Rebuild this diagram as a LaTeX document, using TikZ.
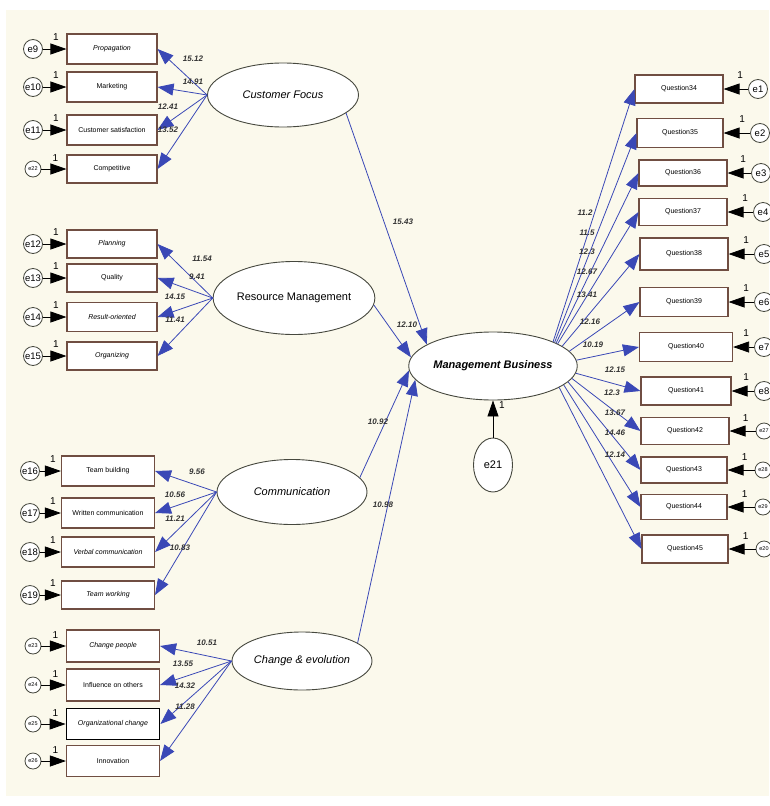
\documentclass[tikz,border=0pt]{standalone}
\usepackage{fontspec}
\setmainfont{Liberation Sans}
\usetikzlibrary{shapes.geometric,arrows.meta,positioning}

\definecolor{paper}{RGB}{251,249,236}
\definecolor{boxline}{RGB}{112,78,66}
\definecolor{pathblue}{RGB}{58,72,182}
\definecolor{ellline}{RGB}{70,72,62}

\begin{document}
\begin{tikzpicture}[x=1pt,y=-1pt,
    ind/.style={draw=boxline, line width=1.1pt, fill=white, rectangle, minimum width=90pt, minimum height=30pt, inner sep=1pt, font=\fontsize{7}{8}\selectfont},
    lat/.style={draw=ellline, line width=0.9pt, fill=white, ellipse, inner sep=0pt, font=\fontsize{11}{12}\selectfont\itshape},
    err/.style={draw=ellline, line width=0.8pt, fill=white, circle, inner sep=0pt, minimum size=19pt, font=\fontsize{9.5}{10}\selectfont},
    errsm/.style={err, minimum size=16pt, font=\fontsize{5.5}{6}\selectfont},
    one/.style={font=\fontsize{10}{10}\selectfont, inner sep=0pt},
    num/.style={font=\fontsize{8}{9}\selectfont\bfseries\itshape, text=black!80, inner sep=0pt},
    load/.style={draw=pathblue, line width=0.8pt, -{Triangle[length=16pt,width=12pt]}},
    fix/.style={draw=black, line width=0.8pt, -{Triangle[length=16pt,width=11pt]}}]

        % Frame
        \useasboundingbox (0,0) rectangle (769,806);
        \fill[white] (0,0) rectangle (769,806);
        \fill[paper] (6,10) rectangle (769,796);

        % Nodes: Customer Focus
        \node (CF) [lat, minimum width=151pt, minimum height=64pt] at (283,95) {Customer Focus};
        \node (Prop) [ind, font=\fontsize{7}{8}\selectfont\itshape] at (112,49) {Propagation};
        \node (Mark) [ind] at (112,87) {Marketing};
        \node (CSat) [ind] at (112,130) {Customer satisfaction};
        \node (Comp) [ind, minimum height=28pt] at (112,169) {Competitive};
        \node (e9) [err, left of=Prop, node distance=79pt] {e9};
        \node (e10) [err, left of=Mark, node distance=79pt] {e10};
        \node (e11) [err, left of=CSat, node distance=79pt] {e11};
        \node (e22) [errsm, left of=Comp, node distance=79pt] {e22};

        % Nodes: Resource Management
        \node (RM) [lat, minimum width=152pt, minimum height=73pt, font=\fontsize{11}{12}\selectfont] at (294,298) {Resource Management};
        \node (Plan) [ind, minimum height=28pt, font=\fontsize{7}{8}\selectfont\itshape] at (112,244) {Planning};
        \node (Qual) [ind, minimum height=28pt] at (112,278) {Quality};
        \node (Res) [ind, minimum height=29pt, font=\fontsize{7}{8}\selectfont\itshape] at (112,317) {Result-oriented};
        \node (Org) [ind, minimum height=28pt, font=\fontsize{7}{8}\selectfont\itshape] at (112,356) {Organizing};
        \node (e12) [err, left of=Plan, node distance=79pt] {e12};
        \node (e13) [err, left of=Qual, node distance=79pt] {e13};
        \node (e14) [err, left of=Res, node distance=79pt] {e14};
        \node (e15) [err, left of=Org, node distance=79pt] {e15};

        % Nodes: Communication
        \node (COM) [lat, minimum width=150pt, minimum height=65pt] at (292,492) {Communication};
        \node (TB) [ind, minimum width=93pt] at (108,471) {Team building};
        \node (WC) [ind, minimum width=93pt] at (108,513) {Written communication};
        \node (VC) [ind, minimum width=93pt, font=\fontsize{7}{8}\selectfont\itshape] at (108,552) {Verbal communication};
        \node (TW) [ind, minimum width=93pt, minimum height=28pt, font=\fontsize{7}{8}\selectfont\itshape] at (108,595) {Team working};
        \node (e16) [err, left of=TB, node distance=78pt] {e16};
        \node (e17) [err, left of=WC, node distance=78pt] {e17};
        \node (e18) [err, left of=VC, node distance=78pt] {e18};
        \node (e19) [err, left of=TW, node distance=78pt] {e19};

        % Nodes: Change & evolution
        \node (CE) [lat, minimum width=140pt, minimum height=58pt] at (302,661) {Change \& evolution};
        \node (CP) [ind, minimum width=93pt, minimum height=32pt, font=\fontsize{7}{8}\selectfont\itshape] at (113,646) {Change people};
        \node (IO) [ind, minimum width=93pt, minimum height=32pt] at (113,685) {Influence on others};
        \node (OC) [ind, minimum width=93pt, minimum height=31pt, draw=black, line width=1.8pt, font=\fontsize{7}{8}\selectfont\itshape] at (113,724) {Organizational change};
        \node (Inn) [ind, minimum width=93pt, minimum height=31pt] at (113,761) {Innovation};
        \node (e23) [errsm, left of=CP, node distance=80pt] {e23};
        \node (e24) [errsm, left of=IO, node distance=80pt] {e24};
        \node (e25) [errsm, left of=OC, node distance=80pt] {e25};
        \node (e26) [errsm, left of=Inn, node distance=80pt] {e26};

        % Nodes: Management Business
        \node (MB) [lat, minimum width=150pt, minimum height=68pt, font=\fontsize{11}{12}\selectfont\bfseries\itshape] at (493,366) {Management Business};
        \node (e21) [lat, minimum width=39pt, minimum height=54pt, font=\fontsize{11}{12}\selectfont] at (493,465) {e21};
        \node (Q34) [ind, minimum width=88pt, minimum height=28pt] at (679,89) {Question34};
        \node (Q35) [ind, minimum width=86pt, minimum height=29pt] at (680,133) {Question35};
        \node (Q36) [ind, minimum width=88pt, minimum height=26pt] at (683,173) {Question36};
        \node (Q37) [ind, minimum width=88pt, minimum height=27pt] at (683,212) {Question37};
        \node (Q38) [ind, minimum width=88pt, minimum height=32pt] at (684,254) {Question38};
        \node (Q39) [ind, minimum width=88pt, minimum height=29pt] at (684,302) {Question39};
        \node (Q40) [ind, minimum width=93pt, minimum height=29pt] at (686,347) {Question40};
        \node (Q41) [ind, minimum width=90pt, minimum height=28pt] at (686,391) {Question41};
        \node (Q42) [ind, minimum width=88pt, minimum height=27pt] at (685,431) {Question42};
        \node (Q43) [ind, minimum width=86pt, minimum height=26pt] at (684,470) {Question43};
        \node (Q44) [ind, minimum width=86pt, minimum height=25pt] at (684,507) {Question44};
        \node (Q45) [ind, minimum width=86pt, minimum height=28pt] at (685,549) {Question45};
        \node (e1) [err, right of=Q34, node distance=79pt] {e1};
        \node (e2) [err, right of=Q35, node distance=80pt] {e2};
        \node (e3) [err, right of=Q36, node distance=78pt] {e3};
        \node (e4) [err, right of=Q37, node distance=80pt] {e4};
        \node (e5) [err, right of=Q38, node distance=80pt] {e5};
        \node (e6) [err, right of=Q39, node distance=80pt] {e6};
        \node (e7) [err, right of=Q40, node distance=78pt] {e7};
        \node (e8) [err, right of=Q41, node distance=78pt] {e8};
        \node (e27) [errsm, right of=Q42, node distance=79pt] {e27};
        \node (e28) [errsm, right of=Q43, node distance=79pt] {e28};
        \node (e29) [errsm, right of=Q44, node distance=79pt] {e29};
        \node (e20) [errsm, right of=Q45, node distance=79pt] {e20};

        % Arrows: error terms
        \draw [fix] (e9) -- (Prop);
        \draw [fix] (e10) -- (Mark);
        \draw [fix] (e11) -- (CSat);
        \draw [fix] (e22) -- (Comp);
        \draw [fix] (e12) -- (Plan);
        \draw [fix] (e13) -- (Qual);
        \draw [fix] (e14) -- (Res);
        \draw [fix] (e15) -- (Org);
        \draw [fix] (e16) -- (TB);
        \draw [fix] (e17) -- (WC);
        \draw [fix] (e18) -- (VC);
        \draw [fix] (e19) -- (TW);
        \draw [fix] (e23) -- (CP);
        \draw [fix] (e24) -- (IO);
        \draw [fix] (e25) -- (OC);
        \draw [fix] (e26) -- (Inn);
        \draw [fix] (e21) -- (MB);
        \draw [fix] (e1) -- (Q34);
        \draw [fix] (e2) -- (Q35);
        \draw [fix] (e3) -- (Q36);
        \draw [fix] (e4) -- (Q37);
        \draw [fix] (e5) -- (Q38);
        \draw [fix] (e6) -- (Q39);
        \draw [fix] (e7) -- (Q40);
        \draw [fix] (e8) -- (Q41);
        \draw [fix] (e27) -- (Q42);
        \draw [fix] (e28) -- (Q43);
        \draw [fix] (e29) -- (Q44);
        \draw [fix] (e20) -- (Q45);

        % Unit weights
        \node (o9) [one] at ([shift={(13pt,12pt)}]e9.east) {1};
        \node (o10) [one] at ([shift={(13pt,12pt)}]e10.east) {1};
        \node (o11) [one] at ([shift={(13pt,12pt)}]e11.east) {1};
        \node (o22) [one] at ([shift={(14pt,11pt)}]e22.east) {1};
        \node (o12) [one] at ([shift={(13pt,12pt)}]e12.east) {1};
        \node (o13) [one] at ([shift={(13pt,12pt)}]e13.east) {1};
        \node (o14) [one] at ([shift={(13pt,12pt)}]e14.east) {1};
        \node (o15) [one] at ([shift={(13pt,12pt)}]e15.east) {1};
        \node (o16) [one] at ([shift={(13pt,12pt)}]e16.east) {1};
        \node (o17) [one] at ([shift={(13pt,12pt)}]e17.east) {1};
        \node (o18) [one] at ([shift={(13pt,12pt)}]e18.east) {1};
        \node (o19) [one] at ([shift={(13pt,12pt)}]e19.east) {1};
        \node (o23) [one] at ([shift={(14pt,11pt)}]e23.east) {1};
        \node (o24) [one] at ([shift={(14pt,11pt)}]e24.east) {1};
        \node (o25) [one] at ([shift={(14pt,11pt)}]e25.east) {1};
        \node (o26) [one] at ([shift={(14pt,11pt)}]e26.east) {1};
        \node (o21) [one] at ([shift={(9pt,-5pt)}]MB.south) {1};
        \node (o1) [one] at ([shift={(-8pt,14pt)}]e1.west) {1};
        \node (o2) [one] at ([shift={(-8pt,14pt)}]e2.west) {1};
        \node (o3) [one] at ([shift={(-8pt,14pt)}]e3.west) {1};
        \node (o4) [one] at ([shift={(-8pt,14pt)}]e4.west) {1};
        \node (o5) [one] at ([shift={(-8pt,14pt)}]e5.west) {1};
        \node (o6) [one] at ([shift={(-8pt,14pt)}]e6.west) {1};
        \node (o7) [one] at ([shift={(-8pt,14pt)}]e7.west) {1};
        \node (o8) [one] at ([shift={(-8pt,14pt)}]e8.west) {1};
        \node (o27) [one] at ([shift={(-10pt,13pt)}]e27.west) {1};
        \node (o28) [one] at ([shift={(-10pt,13pt)}]e28.west) {1};
        \node (o29) [one] at ([shift={(-10pt,13pt)}]e29.west) {1};
        \node (o20) [one] at ([shift={(-10pt,13pt)}]e20.west) {1};

        % Arrows: loadings
        \draw [load] (CF.west) -- (Prop.east);
        \draw [load] (CF.west) -- (Mark.east);
        \draw [load] (CF.west) -- (CSat.east);
        \draw [load] (CF.west) -- (Comp.east);
        \draw [load] (RM.west) -- (Plan.east);
        \draw [load] (RM.west) -- (Qual.east);
        \draw [load] (RM.west) -- (Res.east);
        \draw [load] (RM.west) -- (Org.east);
        \draw [load] (COM.west) -- (TB.east);
        \draw [load] (COM.west) -- (WC.east);
        \draw [load] (COM.west) -- (VC.east);
        \draw [load] (COM.west) -- (TW.east);
        \draw [load] (CE.west) -- (CP.east);
        \draw [load] (CE.west) -- (IO.east);
        \draw [load] (CE.west) -- (OC.east);
        \draw [load] (CE.west) -- (Inn.east);
        \draw [load] (MB.22) -- (Q34.west);
        \draw [load] (MB.21) -- (Q35.west);
        \draw [load] (MB.20) -- (Q36.west);
        \draw [load] (MB.19) -- (Q37.west);
        \draw [load] (MB.16) -- (Q38.west);
        \draw [load] (MB.11) -- (Q39.west);
        \draw [load] (MB.4) -- (Q40.west);
        \draw [load] (MB.-5) -- (Q41.west);
        \draw [load] (MB.-9) -- (Q42.west);
        \draw [load] (MB.-12) -- (Q43.west);
        \draw [load] (MB.-15) -- (Q44.west);
        \draw [load] (MB.-18) -- (Q45.west);

        % Arrows: structural paths
        \draw [load] (CF.-16) -- (MB.162);
        \draw [load] (RM.-5) -- (MB.174);
        \draw [load] (COM.12) -- (MB.183);
        \draw [load] (CE.18) -- (MB.190);

        % Estimates
        \node (w1) [num] at (193,59) {15.12};
        \node (w2) [num] at (193,82) {14.91};
        \node (w3) [num] at (168,107) {12.41};
        \node (w4) [num] at (168,130) {13.52};
        \node (w5) [num] at (202,259) {11.54};
        \node (w6) [num] at (197,277) {9.41};
        \node (w7) [num] at (175,297) {14.15};
        \node (w8) [num] at (175,320) {11.41};
        \node (w9) [num] at (197,472) {9.56};
        \node (w10) [num] at (175,495) {10.56};
        \node (w11) [num] at (175,519) {11.21};
        \node (w12) [num] at (180,548) {10.83};
        \node (w13) [num] at (207,643) {10.51};
        \node (w14) [num] at (183,664) {13.55};
        \node (w15) [num] at (185,686) {14.32};
        \node (w16) [num] at (185,707) {11.28};
        \node (w17) [num] at (403,222) {15.43};
        \node (w18) [num] at (407,325) {12.10};
        \node (w19) [num] at (378,422) {10.92};
        \node (w20) [num] at (383,505) {10.98};
        \node (w21) [num] at (585,213) {11.2};
        \node (w22) [num] at (587,233) {11.5};
        \node (w23) [num] at (587,252) {12.3};
        \node (w24) [num] at (587,272) {12.67};
        \node (w25) [num] at (587,295) {13.41};
        \node (w26) [num] at (590,322) {12.16};
        \node (w27) [num] at (593,345) {10.19};
        \node (w28) [num] at (615,370) {12.15};
        \node (w29) [num] at (612,393) {12.3};
        \node (w30) [num] at (615,413) {13.67};
        \node (w31) [num] at (615,433) {14.46};
        \node (w32) [num] at (615,455) {12.14};
\end{tikzpicture}
\end{document}
